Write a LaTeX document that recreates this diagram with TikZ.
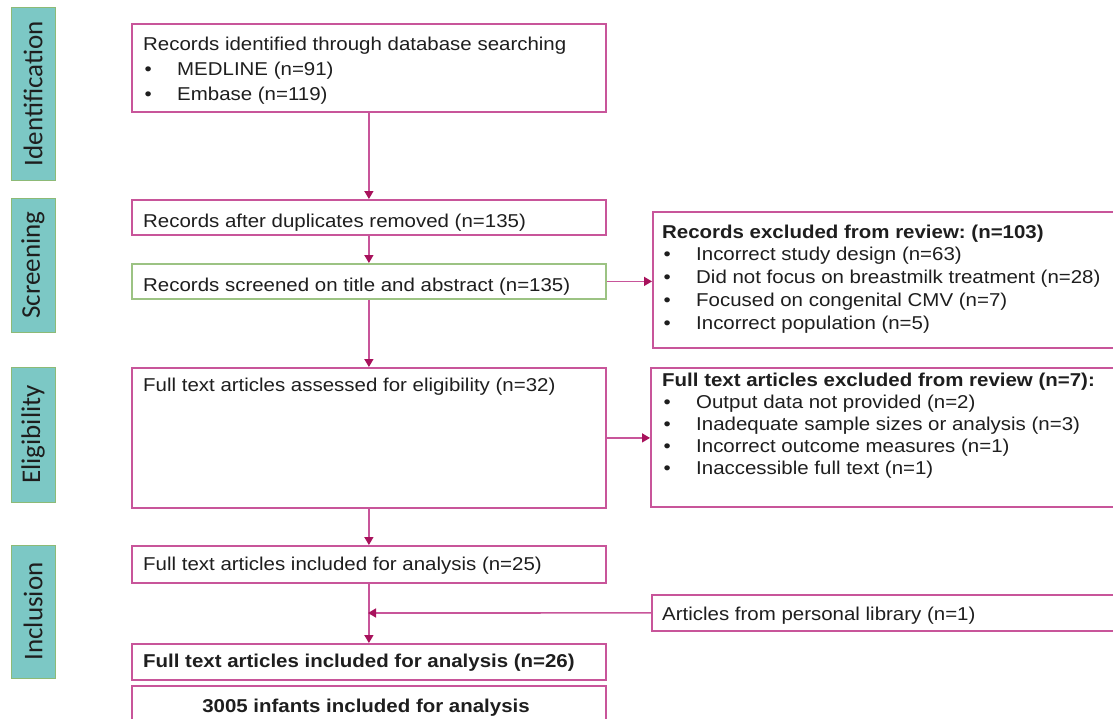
\documentclass[tikz,border=0pt]{standalone}
\usepackage{fontspec}
\setmainfont[FakeStretch=1.1]{Liberation Sans}
\newfontfamily\phasefont{Carlito}
\usetikzlibrary{arrows.meta}
\definecolor{boxc}{HTML}{C8559A}
\definecolor{arrc}{HTML}{A8125C}
\definecolor{greenc}{HTML}{9CC383}
\definecolor{tealf}{HTML}{7CC8C5}
\definecolor{tealb}{HTML}{8DBA76}
\definecolor{txtc}{HTML}{1E1E1E}
\newcommand{\bul}{\makebox[34pt][l]{\hspace{1.5pt}•}}
\frenchspacing
\begin{document}
\frenchspacing
\begin{tikzpicture}[x=1pt,y=-1pt,
 box/.style={draw=boxc, line width=1.8pt, anchor=north west, inner sep=0pt},
 txt/.style={inner sep=0pt, text=txtc, font=\fontsize{18.6}{25}\selectfont, align=left},
 phase/.style={draw=tealb, fill=tealf, line width=1pt, rotate=90, minimum height=44pt, inner sep=0pt, text=txtc, font=\phasefont\fontsize{27}{27}\selectfont},
 arr/.style={draw=boxc, line width=1.6pt, -{Triangle[width=9pt,length=8pt,color=arrc]}}]
\useasboundingbox (0,0) rectangle (1113,718);
\clip (0,0) rectangle (1113,718);
\fill[white] (0,0) rectangle (1113,718);

% phase labels
\node[phase, minimum width=173pt] (p1) at (33,93.5) {Identification};
\node[phase, minimum width=134pt] (p2) at (33,265) {Screening};
\node[phase, minimum width=135pt] (p3) at (33,434.5) {Eligibility};
\node[phase, minimum width=133pt] (p4) at (33,611.5) {Inclusion};

% main column boxes
\node[box, minimum width=474pt, minimum height=88pt] (b1) at (131,23) {};
\node[box, minimum width=474pt, minimum height=35pt] (b2) at (131,199) {};
\node[box, draw=greenc, minimum width=474pt, minimum height=35pt] (b3) at (131,263) {};
\node[box, minimum width=474pt, minimum height=140pt] (b4) at (131,367) {};
\node[box, minimum width=474pt, minimum height=37pt] (b5) at (131,545) {};
\node[box, minimum width=474pt, minimum height=36pt] (b6) at (131,643) {};
\node[box, minimum width=474pt, minimum height=50pt] (b7) at (131,685) {};

% right boxes
\node[box, minimum width=480pt, minimum height=136pt] (r1) at (652,211) {};
\node[box, minimum width=480pt, minimum height=139pt] (r2) at (650,367) {};
\node[box, minimum width=480pt, minimum height=36pt] (r3) at (651,594) {};

% texts
\node[txt, anchor=north west] (t1) at (143,36.7) {Records identified through database searching\\ \bul MEDLINE (n=91)\\ \bul Embase (n=119)};
\node[txt, anchor=base west] (t2) at (143,227) {Records after duplicates removed (n=135)};
\node[txt, anchor=base west] (t3) at (143,291) {Records screened on title and abstract (n=135)};
\node[txt, anchor=base west] (t4) at (143,391) {Full text articles assessed for eligibility (n=32)};
\node[txt, anchor=base west] (t5) at (143,570) {Full text articles included for analysis (n=25)};
\node[txt, anchor=base west, font=\fontsize{18.6}{25}\selectfont\bfseries] (t6) at (143,667) {Full text articles included for analysis (n=26)};
\node[txt, anchor=base, font=\fontsize{18.6}{25}\selectfont\bfseries] (t7) at (366,712) {3005 infants included for analysis};

\node[txt, anchor=north west, font=\fontsize{18.6}{22.8}\selectfont] (t8) at (662,224.5) {\textbf{Records excluded from review: (n=103)}\\ \bul Incorrect study design (n=63)\\ \bul Did not focus on breastmilk treatment (n=28)\\ \bul Focused on congenital CMV (n=7)\\ \bul Incorrect population (n=5)};
\node[txt, anchor=north west, font=\fontsize{18.6}{22}\selectfont] (t9) at (662,372.5) {\textbf{Full text articles excluded from review (n=7):}\\ \bul Output data not provided (n=2)\\ \bul Inadequate sample sizes or analysis (n=3)\\ \bul Incorrect outcome measures (n=1)\\ \bul Inaccessible full text (n=1)};
\node[txt, anchor=base west] (t10) at (662,620) {Articles from personal library (n=1)};

% connectors
\coordinate (j) at (368,613);
\draw[arr] (b1.south) -- (b2.north);
\draw[arr] (b2.south) -- (b3.north);
\draw[arr] (b3.south) -- (b4.north);
\draw[arr] (b3.east) -- (r1.west |- b3.east);
\draw[arr] (b4.east) -- (r2.west |- b4.east);
\draw[arr] (b4.south) -- (b5.north);
\draw[arr] (b5.south) -- (b6.north);
\draw[arr] (r3.west) -- (j);
\end{tikzpicture}
\end{document}
